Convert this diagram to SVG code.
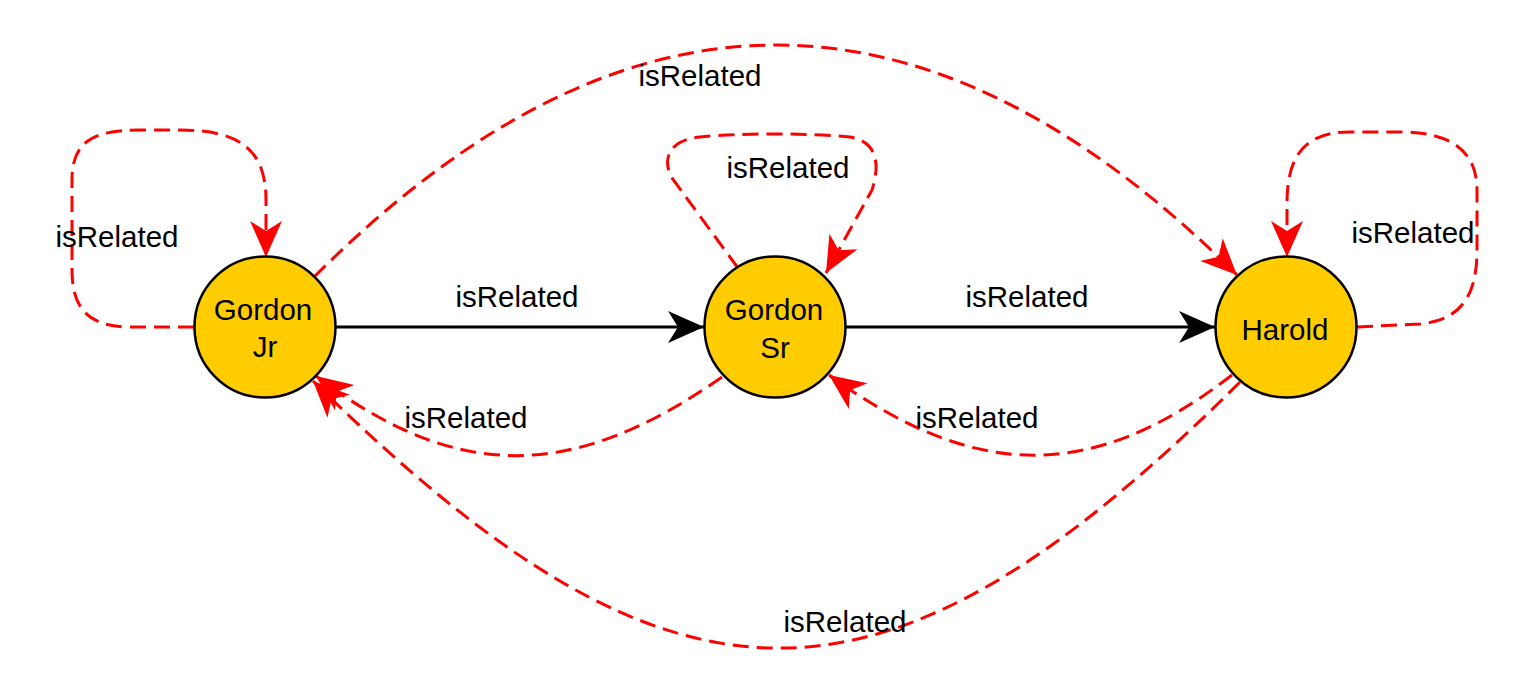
<svg xmlns="http://www.w3.org/2000/svg" width="1532" height="697" viewBox="0 0 1532 697">
<defs>
<style>
.node{fill:#FFCC00;stroke:#000;stroke-width:2.5}
.lbl{font-family:"Liberation Sans",Arial,sans-serif;font-size:29.5px;fill:#000;text-anchor:middle}
.solid{fill:none;stroke:#000;stroke-width:3}
.dash{fill:none;stroke:#FF0000;stroke-width:3;stroke-dasharray:16,8}
</style>
<marker id="ab" markerUnits="userSpaceOnUse" viewBox="-37 -17 38 34" markerWidth="38" markerHeight="34" refX="0" refY="0" orient="auto">
<path d="M0,0 L-36,-16 L-26,0 L-36,16 Z" fill="#000"/>
</marker>
<marker id="ar" markerUnits="userSpaceOnUse" viewBox="-37 -17 38 34" markerWidth="38" markerHeight="34" refX="0" refY="0" orient="auto">
<path d="M0,0 L-36,-16 L-26,0 L-36,16 Z" fill="#FF0000"/>
</marker>
</defs>
<rect width="1532" height="697" fill="#fff"/>
<g id="connectors">
<path class="solid" d="M336,327 L704,327" marker-end="url(#ab)"/>
<path class="solid" d="M846,327 L1215,327" marker-end="url(#ab)"/>
<path class="dash" d="M194,327 L130,327 C85,327 72,305 72,270 L72,180 C72,142 92,130 140,130 L180,130 C240,130 266,150 266,200 L266,257" marker-end="url(#ar)"/>
<path class="dash" d="M738,268 L672,178 C662,160 668,140 700,137 C740,133 810,133 850,137 C878,142 880,165 872,190 L826,273" marker-end="url(#ar)"/>
<path class="dash" d="M1357,327 L1420,324 C1465,320 1477,290 1477,250 L1477,190 C1477,150 1450,132 1400,132 L1350,132 C1305,132 1288,155 1287,200 L1287,257" marker-end="url(#ar)"/>
<path class="dash" d="M314,277 C623,-32 928,-32 1237,275" marker-end="url(#ar)"/>
<path class="dash" d="M1240,382 C883,737 675,737 313,381" marker-end="url(#ar)"/>
<path class="dash" d="M722,377 C572,482 456,482 316,376" marker-end="url(#ar)"/>
<path class="dash" d="M1232,375 C1093,482 977,482 829,375" marker-end="url(#ar)"/>
</g>
<g id="edge-labels">
<text class="lbl" x="517" y="307">isRelated</text>
<text class="lbl" x="1027" y="307">isRelated</text>
<text class="lbl" x="117" y="247">isRelated</text>
<text class="lbl" x="788" y="178">isRelated</text>
<text class="lbl" x="1413" y="243">isRelated</text>
<text class="lbl" x="700" y="86">isRelated</text>
<text class="lbl" x="845" y="632">isRelated</text>
<text class="lbl" x="466" y="428">isRelated</text>
<text class="lbl" x="977" y="428">isRelated</text>
</g>
<g id="node-gordon-jr">
<circle class="node" cx="265" cy="327" r="70.5"/>
<text class="lbl" x="263" y="320">Gordon</text>
<text class="lbl" x="265" y="357">Jr</text>
</g>
<g id="node-gordon-sr">
<circle class="node" cx="775" cy="327" r="70.5"/>
<text class="lbl" x="774" y="320">Gordon</text>
<text class="lbl" x="775" y="358">Sr</text>
</g>
<g id="node-harold">
<circle class="node" cx="1286" cy="327" r="70.5"/>
<text class="lbl" x="1285" y="340">Harold</text>
</g>
</svg>
